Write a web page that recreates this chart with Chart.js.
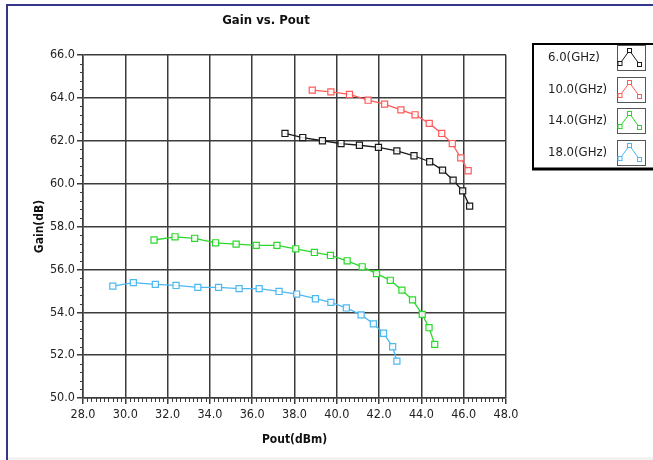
<!DOCTYPE html>
<html>
<head>
<meta charset="utf-8">
<script src="https://cdn.jsdelivr.net/npm/chart.js@4.4.0/dist/chart.umd.min.js"></script>
<style>
  html, body { margin: 0; padding: 0; background: #fff; }
  #chart { display: block; }
</style>
</head>
<body>
<canvas id="chart" width="653" height="460"></canvas>
<script>
// Series labels and colours
const seriesLabels = ['6.0(GHz)', '10.0(GHz)', '14.0(GHz)', '18.0(GHz)'];
const seriesColors = ['#1a1a1a', '#ff5a5a', '#2ad82a', '#4cb8f0'];

// 6 GHz
const pout6 = [37.55, 38.39, 39.32, 40.20, 41.07, 41.97, 42.84, 43.65, 44.39, 45.00, 45.50, 45.95, 46.28];
const gain6 = [62.34, 62.15, 62.00, 61.87, 61.79, 61.69, 61.53, 61.30, 61.02, 60.63, 60.16, 59.66, 58.95];

// 10 GHz
const pout10 = [38.84, 39.72, 40.60, 41.48, 42.26, 43.03, 43.70, 44.37, 44.96, 45.46, 45.86, 46.21];
const gain10 = [64.36, 64.28, 64.16, 63.89, 63.71, 63.44, 63.21, 62.81, 62.34, 61.87, 61.20, 60.60];

// 14 GHz
const pout14 = [31.36, 32.35, 33.28, 34.27, 35.24, 36.19, 37.17, 38.06, 38.94, 39.70, 40.49, 41.20, 41.88, 42.53, 43.08, 43.58, 44.04, 44.36, 44.63];
const gain14 = [57.37, 57.52, 57.45, 57.24, 57.18, 57.12, 57.12, 56.96, 56.79, 56.65, 56.40, 56.12, 55.80, 55.49, 55.03, 54.58, 53.90, 53.28, 52.50];

// 18 GHz
const pout18 = [29.41, 30.38, 31.42, 32.40, 33.43, 34.41, 35.38, 36.33, 37.27, 38.10, 38.99, 39.72, 40.45, 41.15, 41.73, 42.21, 42.64, 42.84];
const gain18 = [55.22, 55.38, 55.30, 55.25, 55.16, 55.16, 55.10, 55.10, 54.97, 54.85, 54.63, 54.46, 54.20, 53.88, 53.46, 53.02, 52.39, 51.72];

// Axis ranges / ticks
const xMin = 28, xMax = 48, xStep = 2, xMinorStep = 0.2;
const yMin = 50, yMax = 66, yStep = 2, yMinorStep = 0.4;

const FONT = "'Liberation Sans Narrow', 'DejaVu Sans Condensed', 'Liberation Sans', sans-serif";
const GRID = '#3c3c3c';

const pouts = [pout6, pout10, pout14, pout18];
const gains = [gain6, gain10, gain14, gain18];

const datasets = seriesLabels.map((label, i) => ({
    label: label,
    data: pouts[i].map((x, j) => ({ x: x, y: gains[i][j] })),
    showLine: true,
    borderColor: seriesColors[i],
    borderWidth: 1.3,
    pointStyle: 'rect',
    pointRadius: 4.3,
    pointBorderWidth: 1.2,
    pointBorderColor: seriesColors[i],
    pointBackgroundColor: 'rgba(255,255,255,0.85)',
    tension: 0
}));

// Frame, title, minor ticks and the boxed legend
const decorPlugin = {
    id: 'decor',
    beforeDraw(chart) {
        const ctx = chart.ctx;
        ctx.save();
        ctx.fillStyle = '#fff';
        ctx.fillRect(0, 0, chart.width, chart.height);
        ctx.fillStyle = '#f3f3f3';
        ctx.fillRect(8, 457, chart.width, 3);
        ctx.strokeStyle = '#35358a';
        ctx.lineWidth = 2;
        ctx.beginPath();
        ctx.moveTo(7, 460);
        ctx.lineTo(7, 5);
        ctx.lineTo(chart.width, 5);
        ctx.stroke();
        ctx.restore();
    },
    afterDraw(chart) {
        const ctx = chart.ctx;
        const xs = chart.scales.x;
        const ys = chart.scales.y;
        ctx.save();

        // title
        ctx.fillStyle = '#111';
        ctx.font = "bold 13px " + FONT;
        ctx.textAlign = 'center';
        ctx.textBaseline = 'middle';
        ctx.fillText('Gain vs. Pout', 266, 21);

        // minor ticks
        ctx.strokeStyle = GRID;
        ctx.lineWidth = 1;
        ctx.beginPath();
        for (let v = xMin; v <= xMax + 1e-6; v += xMinorStep) {
            const r = Math.round(v * 10) / 10;
            if (Math.abs(r / xStep - Math.round(r / xStep)) < 1e-6) continue;
            const px = Math.round(xs.getPixelForValue(r)) + 0.5;
            ctx.moveTo(px, ys.bottom);
            ctx.lineTo(px, ys.bottom + 4);
        }
        for (let v = yMin; v <= yMax + 1e-6; v += yMinorStep) {
            const r = Math.round(v * 10) / 10;
            if (Math.abs(r / yStep - Math.round(r / yStep)) < 1e-6) continue;
            const py = Math.round(ys.getPixelForValue(r)) + 0.5;
            ctx.moveTo(xs.left, py);
            ctx.lineTo(xs.left - 3, py);
        }
        ctx.stroke();

        // legend box
        const lx = 533, ly = 44, lb = 169;
        ctx.strokeStyle = '#000';
        ctx.lineWidth = 2;
        ctx.beginPath();
        ctx.moveTo(chart.width, ly);
        ctx.lineTo(lx, ly);
        ctx.lineTo(lx, lb);
        ctx.stroke();
        ctx.lineWidth = 3;
        ctx.beginPath();
        ctx.moveTo(lx - 1, lb);
        ctx.lineTo(chart.width, lb);
        ctx.stroke();

        const rowTop = [45, 77, 108, 140];
        ctx.font = "13px " + FONT;
        ctx.textAlign = 'left';
        ctx.textBaseline = 'middle';
        seriesLabels.forEach((label, i) => {
            const t = rowTop[i];
            ctx.fillStyle = '#222';
            ctx.fillText(label, 548, t + 13);
            // icon box
            const bx = 617.5, by = t + 0.5, bw = 28, bh = 25;
            ctx.strokeStyle = '#555';
            ctx.lineWidth = 1;
            ctx.strokeRect(bx, by, bw, bh);
            // icon glyph
            const pts = [[bx + 2.5, by + 18], [bx + 12, by + 5], [bx + 22, by + 19]];
            ctx.strokeStyle = seriesColors[i];
            ctx.lineWidth = 1;
            ctx.beginPath();
            ctx.moveTo(pts[0][0], pts[0][1]);
            ctx.lineTo(pts[1][0], pts[1][1]);
            ctx.lineTo(pts[2][0], pts[2][1]);
            ctx.stroke();
            pts.forEach(p => {
                ctx.fillStyle = '#fff';
                ctx.fillRect(p[0] - 2, p[1] - 2, 4, 4);
                ctx.strokeRect(p[0] - 2, p[1] - 2, 4, 4);
            });
        });
        ctx.restore();
    }
};

new Chart(document.getElementById('chart'), {
    type: 'scatter',
    data: { datasets: datasets },
    options: {
        responsive: false,
        animation: false,
        layout: { padding: { top: 55, right: 147, left: 0, bottom: 0 } },
        plugins: {
            legend: { display: false },
            tooltip: { enabled: false }
        },
        scales: {
            x: {
                type: 'linear',
                min: xMin,
                max: xMax,
                afterFit: s => { s.height = 62; },
                ticks: {
                    stepSize: xStep,
                    padding: 3,
                    color: '#222',
                    font: { family: FONT, size: 12.5 },
                    callback: v => v.toFixed(1)
                },
                grid: { color: GRID, lineWidth: 1.5, tickLength: 6 },
                border: { color: GRID, width: 1.5 },
                title: {
                    display: true,
                    text: 'Pout(dBm)',
                    color: '#111',
                    font: { family: FONT, size: 12, weight: 'bold' },
                    padding: { top: 0, bottom: 13 }
                }
            },
            y: {
                type: 'linear',
                min: yMin,
                max: yMax,
                afterFit: s => { s.width = 83; },
                ticks: {
                    stepSize: yStep,
                    padding: 2,
                    color: '#222',
                    font: { family: FONT, size: 12.5 },
                    callback: v => v.toFixed(1)
                },
                grid: { color: GRID, lineWidth: 1.5, tickLength: 6 },
                border: { color: GRID, width: 1.5 },
                title: {
                    display: true,
                    text: 'Gain(dB)',
                    color: '#111',
                    font: { family: FONT, size: 12, weight: 'bold' },
                    padding: { top: 33, bottom: 0 }
                }
            }
        }
    },
    plugins: [decorPlugin]
});
</script>
</body>
</html>
